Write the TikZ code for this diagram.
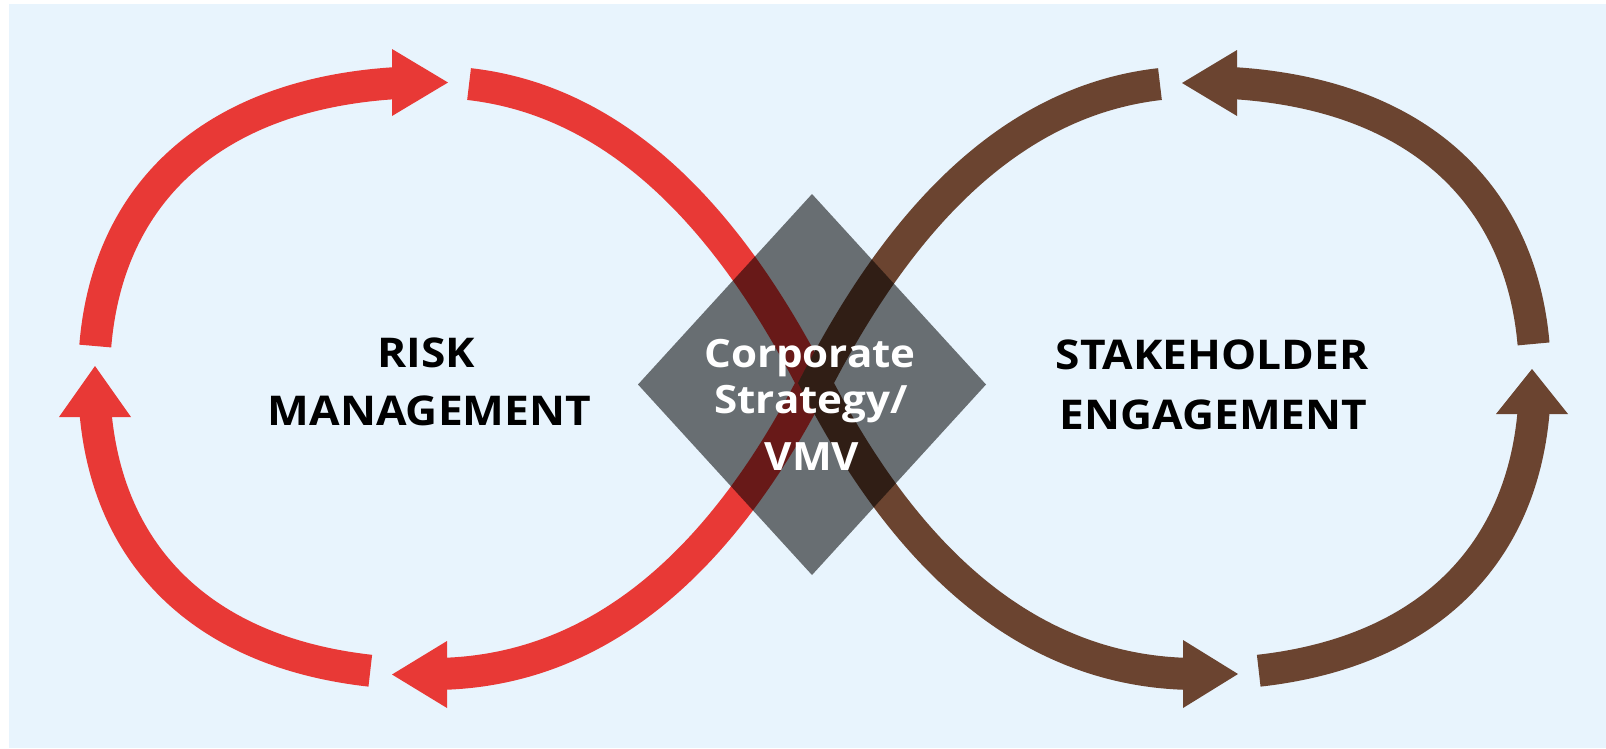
\documentclass[tikz,border=0pt]{standalone}
\usepackage{fontspec}
\newfontfamily\labfont{Open Sans}[FakeStretch=1.08]
\definecolor{bgblue}{HTML}{E8F4FD}
\definecolor{rmred}{HTML}{E83936}
\definecolor{sebrown}{HTML}{6B4430}
\tikzset{
  redhead/.style={fill=rmred},
  brownhead/.style={fill=sebrown},
  labeltext/.style={font=\labfont\bfseries\fontsize{41}{44}\selectfont, text=black, inner sep=0pt, anchor=base},
  coretext/.style={font=\labfont\bfseries\fontsize{39}{42}\selectfont, text=white, inner sep=0pt, anchor=base},
  corebox/.style={fill=black, fill opacity=0.55},
}
\newcommand\drawloopstrokes[2]{%
  \pgfsetlinewidth{32pt}\pgfsetbuttcap
  \pgfpathcurvebetweentime{0.015}{1}{\pgfpointxy{432}{674}}{\pgfpointxy{622}{674}}{\pgfpointxy{739.4}{525.4}}{\pgfpointxy{813}{383}}%
  \pgfpathcurvebetweentimecontinue{0}{0.9333}{\pgfpointxy{813}{383}}{\pgfpointxy{739.4}{240.6}}{\pgfpointxy{622}{82}}{\pgfpointxy{432}{82}}%
  \pgfusepath{stroke}%
  \pgfpathcurvebetweentime{#1}{0.9}{\pgfpointxy{94}{378}}{\pgfpointxy{94}{563}}{\pgfpointxy{217}{674}}{\pgfpointxy{432}{674}}%
  \pgfusepath{stroke}%
  \pgfpathcurvebetweentime{0.051}{#2}{\pgfpointxy{432}{82}}{\pgfpointxy{217}{82}}{\pgfpointxy{94}{193}}{\pgfpointxy{94}{378}}%
  \pgfusepath{stroke}}
\begin{document}
\begin{tikzpicture}[x=1pt,y=-1pt]
\useasboundingbox (0,0) rectangle (1606,748);
\fill[bgblue] (9,4) rectangle (1606,748);
% red loop
\begin{scope}
  \pgfsetstrokecolor{rmred}
  \drawloopstrokes{0.055}{0.941}
\end{scope}
\fill[redhead] (392,49) -- (448,82.5) -- (392,116) -- cycle;
\fill[redhead] (59,417) -- (95,366) -- (131,417) -- cycle;
\fill[redhead] (447,641) -- (392,674.5) -- (447,708) -- cycle;
% brown loop
\begin{scope}[shift={(1629,0)},xscale=-1]
  \pgfsetstrokecolor{sebrown}
  \drawloopstrokes{0.047}{0.937}
\end{scope}
\fill[brownhead] (1237,50) -- (1182,83) -- (1237,116) -- cycle;
\fill[brownhead] (1496,414) -- (1532,369) -- (1568,414) -- cycle;
\fill[brownhead] (1183,640) -- (1238,674) -- (1183,708) -- cycle;
% centre diamond
\fill[corebox] (812,194) -- (986,384.5) -- (812,575) -- (638,384.5) -- cycle;
% labels
\node[labeltext] (risk1) at (426.5,367) {RISK};
\node[labeltext] (risk2) at (429.5,425) {MANAGEMENT};
\node[labeltext] (stake1) at (1212,369) {STAKEHOLDER};
\node[labeltext] (stake2) at (1213.5,429) {ENGAGEMENT};
\node[coretext] (core1) at (810,367) {Corporate};
\node[coretext] (core2) at (811,413) {Strategy/};
\node[coretext] (core3) at (812,470) {VMV};
\end{tikzpicture}
\end{document}
